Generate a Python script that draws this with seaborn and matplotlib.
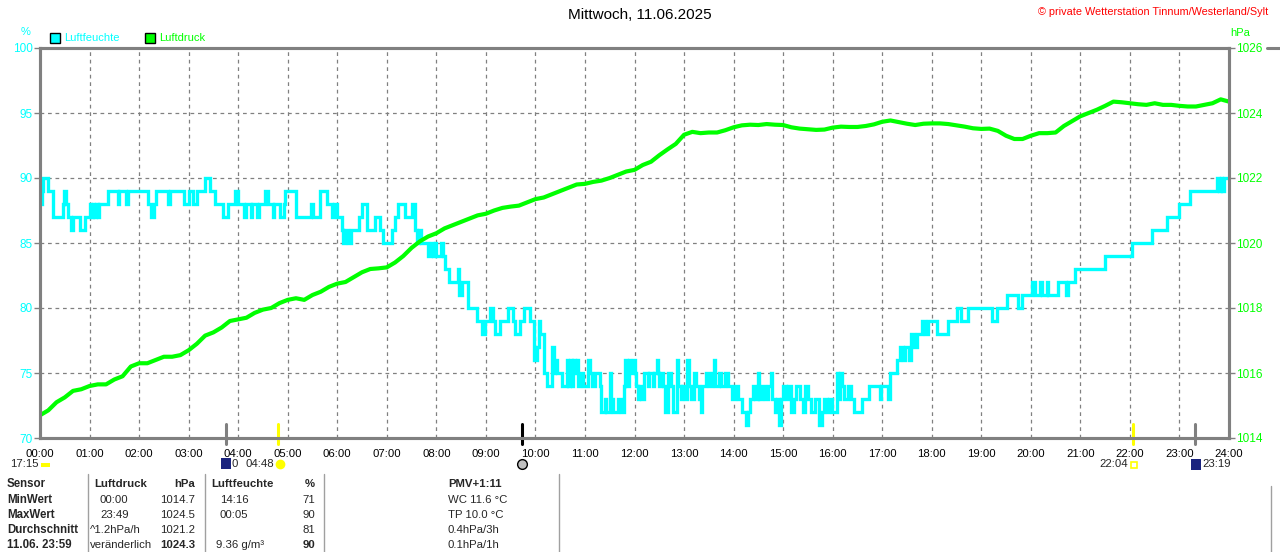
import numpy as np
import pandas as pd
import matplotlib.pyplot as plt
import seaborn as sns
from matplotlib.patches import Rectangle
from matplotlib.lines import Line2D

CYAN = "#00FFFF"
GREEN = "#00FF00"
GRAY = "#808080"

# Luftfeuchte (%) - change points: minute of day -> value
hum_min = [0, 2, 4, 10, 16, 28, 29, 32, 34, 38, 40, 48, 54, 60, 62, 64, 66, 68, 70, 72,
           82, 94, 96, 104, 106, 131, 135, 138, 140, 155, 158, 174, 180, 185, 190, 200,
           206, 212, 222, 228, 236, 240, 247, 249, 255, 257, 263, 265, 273, 276, 282, 284,
           291, 295, 297, 310, 328, 331, 339, 347, 354, 356,
           360, 366, 367, 369, 373, 377, 386, 390, 396, 406, 412, 416, 426, 430, 434, 442,
           450, 454, 456, 459, 462, 470, 474, 476, 478, 480, 486, 488, 491, 495, 506, 508,
           511, 518, 529, 535, 539, 545, 549, 551, 557, 567, 573, 575, 581, 586, 594, 598,
           602, 604, 605, 610, 614, 620, 622, 624, 626, 632, 638, 640, 642, 644, 646, 648,
           650, 652, 654, 658, 664, 666, 668, 672, 678, 680, 684, 686, 690, 692, 694, 700,
           704, 707, 709, 711, 713, 715, 718,
           720, 722, 724, 726, 728, 731, 736, 738, 742, 744, 747, 748, 750, 752, 755, 757,
           761, 764, 767, 771, 773, 776, 778, 781, 784, 786, 789, 792, 795, 798, 800, 802,
           806, 810, 814, 816, 818, 822, 825, 830, 833, 838, 842, 845, 850, 855, 858, 860,
           864, 866, 869, 871, 875, 878, 882, 885, 887, 890, 893, 895, 897, 900, 903, 906,
           909, 913, 916, 920, 924, 927, 930, 934, 938, 943, 947, 950, 953, 956, 959, 965,
           967, 969, 971, 974, 978, 982, 986, 996, 1004, 1017, 1019, 1027, 1030, 1038, 1042,
           1045, 1048, 1052, 1055, 1058, 1062, 1068, 1072, 1076, 1086, 1100, 1110, 1116,
           1124, 1153, 1159, 1171, 1185, 1189, 1201, 1205, 1211, 1213, 1219, 1221, 1233,
           1243, 1245, 1254, 1290, 1322, 1347, 1365, 1379, 1393, 1426, 1428, 1430, 1432, 1434]
hum_val = [88, 89, 90, 89, 87, 88, 89, 88, 87, 86, 87, 86, 87, 88, 87, 88, 87, 88, 87, 88,
           89, 88, 89, 88, 89, 88, 87, 88, 89, 88, 89, 88, 89, 88, 89, 90,
           89, 88, 87, 88, 89, 88, 87, 88, 87, 88, 87, 88, 89, 88, 87, 88,
           87, 88, 89, 87, 88, 87, 89, 88, 87, 88,
           87, 86, 85, 86, 85, 86, 87, 88, 86, 87, 86, 85, 86, 87, 88, 87,
           88, 86, 85, 86, 85, 84, 85, 84, 85, 84, 85, 84, 83, 82, 83, 81,
           82, 80, 79, 78, 79, 80, 79, 78, 79, 80, 79, 78, 79, 80, 79, 76,
           77, 79, 78, 75, 74, 77, 75, 76, 75, 74, 76, 74, 76, 74, 76, 75,
           76, 74, 75, 74, 76, 75, 74, 75, 74, 72, 73, 72, 75, 73, 72, 73,
           72, 74, 76, 74, 76, 75, 76,
           75, 74, 73, 74, 73, 75, 74, 75, 74, 75, 76, 75, 74, 75, 74, 72,
           75, 74, 72, 76, 74, 73, 74, 73, 76, 74, 73, 75, 74, 73, 72, 74,
           75, 74, 75, 76, 74, 75, 74, 75, 74, 73, 74, 73, 72, 71, 72, 73,
           74, 73, 75, 73, 74, 73, 74, 75, 73, 72, 73, 71, 73, 74, 73, 74,
           72, 73, 74, 73, 72, 74, 73, 72, 73, 71, 72, 73, 72, 73, 72, 75,
           73, 75, 74, 73, 74, 73, 72, 73, 74, 73, 74, 73, 75, 76, 77,
           76, 77, 76, 78, 77, 78, 79, 78, 79, 78, 79, 80, 79,
           80, 79, 80, 81, 80, 81, 82, 81, 82, 81, 82, 81, 82,
           81, 82, 83, 84, 85, 86, 87, 88, 89, 90, 89, 90, 89, 90]

# Luftdruck (hPa) every 10 minutes, 00:00 ... 24:00
press_val = [1014.7, 1014.85, 1015.1, 1015.25, 1015.45, 1015.5, 1015.6, 1015.65, 1015.65,
             1015.8, 1015.9, 1016.2, 1016.3, 1016.3, 1016.4, 1016.5, 1016.5, 1016.55,
             1016.7, 1016.9, 1017.15, 1017.25, 1017.4, 1017.6, 1017.65, 1017.7, 1017.85,
             1017.95, 1018.0, 1018.15, 1018.25, 1018.3, 1018.25, 1018.4, 1018.5, 1018.65,
             1018.75,
             1018.8, 1018.95, 1019.1, 1019.2, 1019.22, 1019.25, 1019.4, 1019.6, 1019.85,
             1020.05, 1020.2, 1020.3, 1020.45, 1020.55, 1020.65, 1020.75, 1020.85, 1020.9,
             1021.0, 1021.08, 1021.12, 1021.15, 1021.25, 1021.35, 1021.4, 1021.5, 1021.6,
             1021.7, 1021.8, 1021.82, 1021.88, 1021.92, 1022.0, 1022.1, 1022.2, 1022.25,
             1022.4, 1022.5, 1022.7, 1022.88, 1023.05, 1023.33, 1023.42, 1023.38, 1023.4,
             1023.4, 1023.47, 1023.56, 1023.62, 1023.64, 1023.63, 1023.66, 1023.64, 1023.63,
             1023.56, 1023.52, 1023.5, 1023.48, 1023.49, 1023.55, 1023.58, 1023.57, 1023.57,
             1023.6, 1023.65, 1023.73, 1023.77, 1023.72, 1023.67, 1023.63, 1023.67, 1023.68,
             1023.68, 1023.66, 1023.62, 1023.58, 1023.53, 1023.51, 1023.52, 1023.45, 1023.3,
             1023.2, 1023.2, 1023.3, 1023.38, 1023.38, 1023.4, 1023.6, 1023.75, 1023.9,
             1024.0, 1024.1, 1024.22, 1024.35, 1024.33, 1024.3, 1024.27, 1024.25, 1024.3,
             1024.25, 1024.25, 1024.22, 1024.2, 1024.2, 1024.25, 1024.3, 1024.42, 1024.35]
press_min = list(range(0, 1441, 10))

hour_labels = [f"{h:02d}:00" for h in range(25)]
hum_ticks = [70, 75, 80, 85, 90, 95, 100]
press_ticks = [1014, 1016, 1018, 1020, 1022, 1024, 1026]

# marks below the time axis (minute, colour)
event_min = [225, 288, 584, 1324, 1399]
event_col = [GRAY, "#FFFF00", "#000000", "#FFFF00", GRAY]

title = "Mittwoch, 11.06.2025"
copyright_text = "© private Wetterstation Tinnum/Westerland/Sylt"

table_rows = [
    ["Sensor", "Luftdruck", "hPa", "Luftfeuchte", "%", "PMV+1:11"],
    ["MinWert", "00:00", "1014.7", "14:16", "71", "WC 11.6 °C"],
    ["MaxWert", "23:49", "1024.5", "00:05", "90", "TP 10.0 °C"],
    ["Durchschnitt", "^1.2hPa/h", "1021.2", "", "81", "0.4hPa/3h"],
    ["11.06. 23:59", "veränderlich", "1024.3", "9.36 g/m³", "90", "0.1hPa/1h"],
]

sns.set_theme(style="white")
plt.rcParams["font.family"] = ["Liberation Sans", "DejaVu Sans"]

W, H = 1280, 552
fig = plt.figure(figsize=(W / 100, H / 100), dpi=100)
fig.patch.set_facecolor("white")


def px(x, y):
    return x / W, 1 - y / H


ax = fig.add_axes([40 / W, 1 - 438 / H, (1229 - 40) / W, (438 - 48) / H])
ax2 = ax.twinx()

hum = pd.DataFrame({"t": np.array(hum_min + [1440]) / 60, "v": hum_val + [hum_val[-1]]})
press = pd.DataFrame({"t": np.array(press_min) / 60, "v": press_val})

sns.lineplot(data=hum, x="t", y="v", ax=ax, color=CYAN, linewidth=2.4,
             drawstyle="steps-post", solid_joinstyle="miter")
sns.lineplot(data=press, x="t", y="v", ax=ax2, color=GREEN, linewidth=3.0)

ax.set_xlim(0, 24)
ax.set_ylim(70, 100)
ax2.set_ylim(1014, 1026)
ax.set_xticks(range(25))
ax.set_xticklabels(hour_labels, fontsize=8.2, color="black")
ax.set_yticks(hum_ticks)
ax.set_yticklabels([str(v) for v in hum_ticks], fontsize=8.5, color=CYAN)
ax2.set_yticks(press_ticks)
ax2.set_yticklabels([str(v) for v in press_ticks], fontsize=8.5, color=GREEN)
for a in (ax, ax2):
    a.set_xlabel("")
    a.set_ylabel("")
ax.tick_params(axis="x", length=0, pad=8)
ax.tick_params(axis="y", length=4, width=1, color=GRAY, pad=1, direction="out", left=True)
ax2.tick_params(axis="y", length=4, width=1, color=GRAY, pad=1, direction="out", right=True)

ax.grid(True, color=GRAY, linestyle=(0, (3, 3)), linewidth=0.9)
for a in (ax, ax2):
    for s in a.spines.values():
        s.set_color(GRAY)
        s.set_linewidth(2.2)

# event marks
for m, c in zip(event_min, event_col):
    ax.add_line(Line2D([m / 60, m / 60], [-0.015, 0.035], transform=ax.get_xaxis_transform(),
                       color=c, linewidth=2.2, clip_on=False, zorder=5))

# header texts
fig.text(*px(640, 15), title, ha="center", va="center", fontsize=11, color="black")
fig.text(*px(1268, 12), copyright_text, ha="right", va="center", fontsize=7.8, color="#FF0000")
fig.text(*px(26, 32), "%", ha="center", va="center", fontsize=8, color=CYAN)
fig.text(*px(1230, 33), "hPa", ha="left", va="center", fontsize=8, color=GREEN)

# legend
for x0, col, name in [(50, CYAN, "Luftfeuchte"), (145, GREEN, "Luftdruck")]:
    fx, fy = px(x0, 43)
    fig.add_artist(Rectangle((fx, fy), 10 / W, 10 / H, transform=fig.transFigure,
                             facecolor=col, edgecolor="black", linewidth=1))
    fig.text(*px(x0 + 14, 38), name, ha="left", va="center", fontsize=8, color=col)

# sun / moon times under the axis
fig.text(*px(10, 464), "17:15", ha="left", va="center", fontsize=8.2)
fig.add_artist(Rectangle(px(41, 467), 9 / W, 4 / H, transform=fig.transFigure,
                         facecolor="#FFFF00", edgecolor="none"))
fig.add_artist(Rectangle(px(221, 469), 10 / W, 11 / H, transform=fig.transFigure,
                         facecolor="#1A237E", edgecolor="none"))
fig.text(*px(232, 464), "0", ha="left", va="center", fontsize=8.2)
fig.text(*px(246, 464), "04:48", ha="left", va="center", fontsize=8.2)
fig.lines.append(Line2D([px(280, 0)[0]], [px(0, 464)[1]], marker="o", markersize=6,
                        color="#FFFF00", transform=fig.transFigure))
fig.lines.append(Line2D([px(522, 0)[0]], [px(0, 464)[1]], marker="o", markersize=7,
                        markerfacecolor="#C0C0C0", markeredgecolor="black",
                        transform=fig.transFigure))
fig.text(*px(1128, 464), "22:04", ha="right", va="center", fontsize=8.2)
fig.add_artist(Rectangle(px(1131, 468), 6 / W, 6 / H, transform=fig.transFigure,
                         facecolor="none", edgecolor="#FFFF00", linewidth=1.2))
fig.add_artist(Rectangle(px(1191, 470), 10 / W, 11 / H, transform=fig.transFigure,
                         facecolor="#1A237E", edgecolor="none"))
fig.text(*px(1202, 464), "23:19", ha="left", va="center", fontsize=8.2)

# summary table
row_y = [484, 500, 515, 530, 545]
col1_x = [94, 100, 100, 90, 90]
col3_x = [211, 220, 220, 220, 216]
for i, row in enumerate(table_rows):
    y = row_y[i]
    bold = "bold" if i == 0 else "normal"
    big = "bold" if i in (0, 4) else "normal"
    fig.text(*px(7, y), row[0], ha="left", va="center", fontsize=8.3, fontweight="bold")
    fig.text(*px(col1_x[i], y), row[1], ha="left", va="center", fontsize=8.2, fontweight=bold)
    fig.text(*px(195, y), row[2], ha="right", va="center", fontsize=8.2, fontweight=big)
    fig.text(*px(col3_x[i], y), row[3], ha="left", va="center", fontsize=8.2, fontweight=bold)
    fig.text(*px(315, y), row[4], ha="right", va="center", fontsize=8.2, fontweight=big)
    fig.text(*px(448, y), row[5], ha="left", va="center", fontsize=8.2, fontweight=bold)

for xs in [88, 205, 324, 559]:
    fig.add_artist(Line2D([xs / W, xs / W], [px(0, 474)[1], 0], color="#A0A0A0",
                          linewidth=1, transform=fig.transFigure))

# frame pieces of the neighbouring panel at the right edge
fig.add_artist(Line2D([1267 / W, 1], [px(0, 48)[1]] * 2, color=GRAY, linewidth=2.2,
                      transform=fig.transFigure))
fig.add_artist(Line2D([1271 / W, 1271 / W], [px(0, 486)[1], 0], color="#A0A0A0",
                      linewidth=1, transform=fig.transFigure))

fig.savefig("out.png", dpi=100, facecolor="white")
